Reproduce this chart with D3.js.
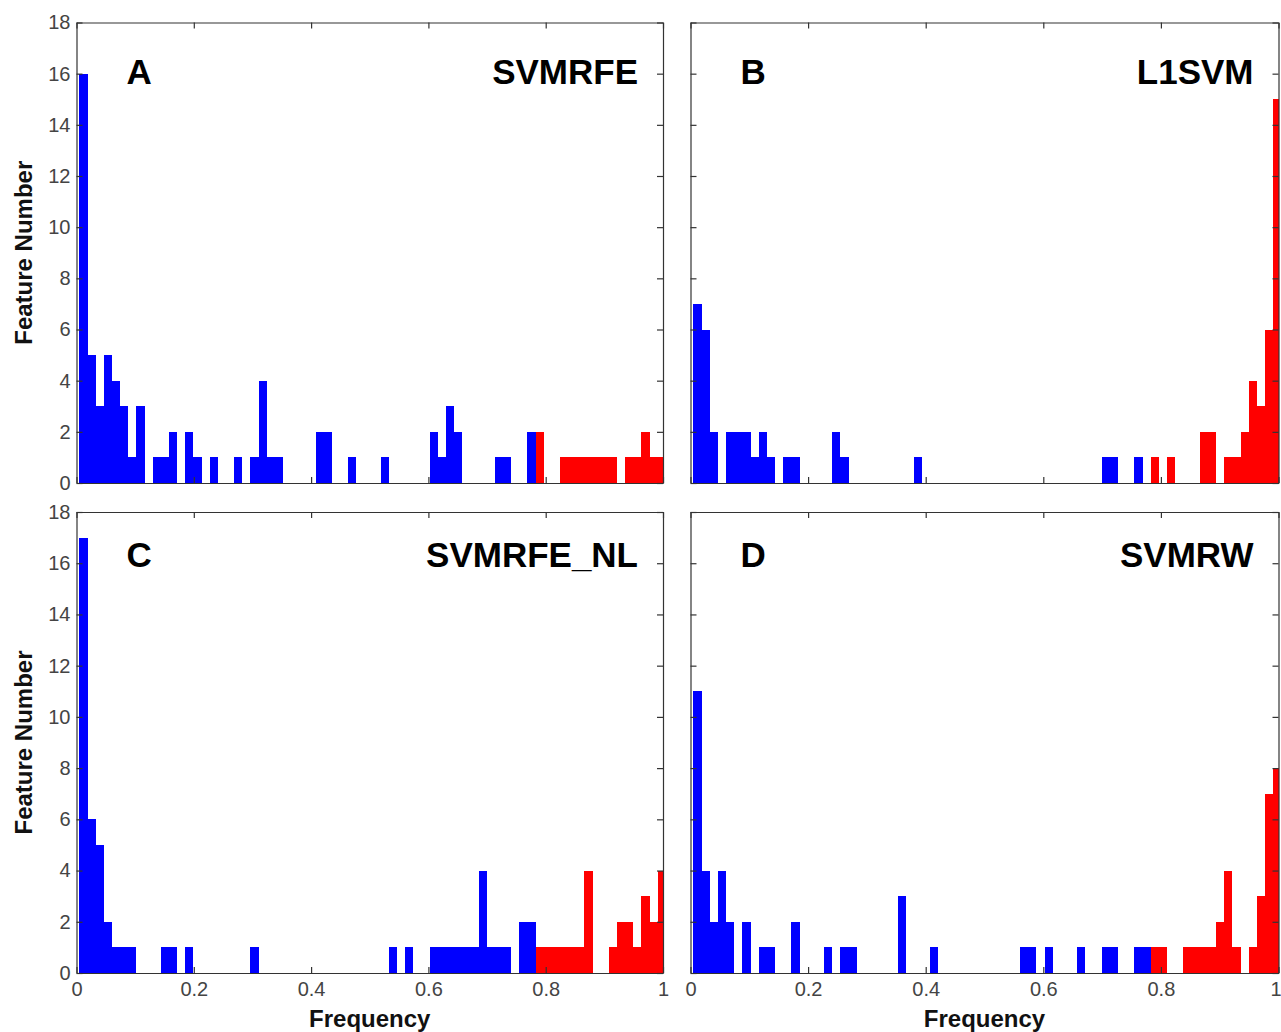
<!DOCTYPE html>
<html>
<head>
  <meta charset="UTF-8"/>
  <title>Feature selection frequency</title>
  <script src="https://d3js.org/d3.v7.min.js"></script>
  <style>
    body { margin: 0; background: #fff; font-family: 'Liberation Sans', Arial, sans-serif; }
    .tick text { font-size: 20px; fill: #444; }
    .tick line, .domain { stroke: #333; stroke-width: 1.2px; }
    .labels { font-size: 24px; font-weight: bold; fill: #111; }
    .title { font-size: 35px; font-weight: bold; fill: #000; }
    rect.bar { shape-rendering: crispEdges; }
  </style>
</head>
<body>
<svg width="1281" height="1032"></svg>
<script>
// histogram bins: 72 bins of width 1/72 starting just right of 0
var binStart = 0.005,
    binWidth = 1 / 72,
    redFrom = 56;   // bins from here on are drawn red

var xTicks = [0, 0.2, 0.4, 0.6, 0.8, 1];
var yTicks = [0, 2, 4, 6, 8, 10, 12, 14, 16, 18];

var panelLetters = ["A", "B", "C", "D"];
var panelNames = ["SVMRFE", "L1SVM", "SVMRFE_NL", "SVMRW"];

var countsA = [16,5,3,5,4,3,1,3,0,1, 1,2,0,2,1,0,1,0,0,1, 0,1,4,1,1,0,0,0,0,2,
               2,0,0,1,0,0,0,1,0,0, 0,0,0,2,1,3,2,0,0,0, 0,1,1,0,0,2,2,0,0,1,
               1,1,1,1,1,1,0,1,1,2, 1,1];
var countsB = [7,6,2,0,2,2,2,1,2,1, 0,1,1,0,0,0,0,2,1,0, 0,0,0,0,0,0,0,1,0,0,
               0,0,0,0,0,0,0,0,0,0, 0,0,0,0,0,0,0,0,0,0, 1,1,0,0,1,0,1,0,1,0,
               0,0,2,2,0,1,1,2,4,3, 6,15];
var countsC = [17,6,5,2,1,1,1,0,0,0, 1,1,0,1,0,0,0,0,0,0, 0,1,0,0,0,0,0,0,0,0,
               0,0,0,0,0,0,0,0,1,0, 1,0,0,1,1,1,1,1,1,4, 1,1,1,0,2,2,1,1,1,1,
               1,1,4,0,0,1,2,2,1,3, 2,4];
var countsD = [11,4,2,4,2,0,2,0,1,1, 0,0,2,0,0,0,1,0,1,1, 0,0,0,0,0,3,0,0,0,1,
               0,0,0,0,0,0,0,0,0,0, 1,1,0,1,0,0,0,1,0,0, 1,1,0,0,1,1,1,1,0,0,
               1,1,1,1,2,4,1,0,1,3, 7,8];

var panelCounts = [countsA, countsB, countsC, countsD];

var svg = d3.select("svg");
var cols = [[76.5, 663], [690.5, 1278.5]],
    rows = [[22.5, 483], [512, 973]],
    titleBase = [84, 567];

panelCounts.forEach(function(counts, i) {
  var c = cols[i % 2], r = rows[Math.floor(i / 2)];
  var x = d3.scaleLinear().domain([0, 1]).range(c),
      y = d3.scaleLinear().domain([0, 18]).range([r[1], r[0]]);

  var g = svg.append("g");

  var bins = counts.map(function(v, k) { return {k: k, v: v}; })
                   .filter(function(d) { return d.v > 0; });

  g.selectAll(".bar")
    .data(bins)
    .enter().append("rect")
      .attr("class", "bar")
      .attr("x", function(d) { return x(binStart + d.k * binWidth); })
      .attr("width", function(d) {
        return x(Math.min(1, binStart + (d.k + 1) * binWidth)) - x(binStart + d.k * binWidth);
      })
      .attr("y", function(d) { return y(d.v); })
      .attr("height", function(d) { return y(0) - y(d.v); })
      .attr("fill", function(d) { return d.k >= redFrom ? "#ff0000" : "#0000ff"; });

  var bottomRow = i >= 2, leftCol = i % 2 === 0;

  var xa = g.append("g")
      .attr("transform", "translate(0," + r[1] + ")")
      .call(d3.axisBottom(x).tickValues(xTicks).tickSizeInner(-6).tickSizeOuter(0).tickPadding(9)
        .tickFormat(bottomRow ? function(d) { return d; } : ""));
  // the last label of the right column sits on the page edge
  if (bottomRow && !leftCol) {
    xa.selectAll(".tick text").filter(function(d) { return d === 1; }).attr("dx", "-3");
  }
  g.append("g")
      .attr("transform", "translate(0," + r[0] + ")")
      .call(d3.axisTop(x).tickValues(xTicks).tickSizeInner(-6).tickSizeOuter(0).tickFormat(""));
  g.append("g")
      .attr("transform", "translate(" + c[0] + ",0)")
      .call(d3.axisLeft(y).tickValues(yTicks).tickSizeInner(-6).tickSizeOuter(0).tickPadding(6)
        .tickFormat(leftCol ? function(d) { return d; } : ""));
  g.append("g")
      .attr("transform", "translate(" + c[1] + ",0)")
      .call(d3.axisRight(y).tickValues(yTicks).tickSizeInner(-6).tickSizeOuter(0).tickFormat(""));

  g.append("text")
      .attr("class", "title")
      .attr("x", c[0] + 50)
      .attr("y", titleBase[Math.floor(i / 2)])
      .text(panelLetters[i]);

  g.append("text")
      .attr("class", "title")
      .attr("x", c[1] - 25)
      .attr("y", titleBase[Math.floor(i / 2)])
      .attr("text-anchor", "end")
      .text(panelNames[i]);

  if (leftCol) {
    svg.append("text")
      .attr("class", "labels")
      .attr("transform", "translate(32," + (r[0] + r[1]) / 2 + ") rotate(-90)")
      .attr("text-anchor", "middle")
      .text("Feature Number");
  }
  if (bottomRow) {
    svg.append("text")
      .attr("class", "labels")
      .attr("x", (c[0] + c[1]) / 2)
      .attr("y", 1027)
      .attr("text-anchor", "middle")
      .text("Frequency");
  }
});
</script>
</body>
</html>
